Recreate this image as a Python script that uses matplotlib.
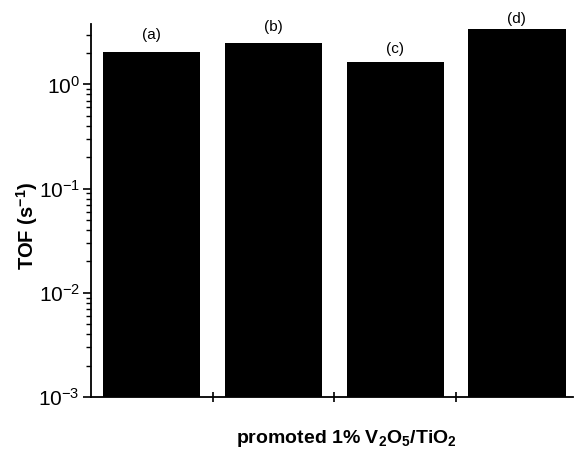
import matplotlib
matplotlib.use('Agg')
import matplotlib.pyplot as plt
from matplotlib.ticker import LogLocator, FixedLocator, NullFormatter

plt.rcParams['font.family'] = ['Liberation Sans', 'DejaVu Sans']
plt.rcParams['mathtext.fontset'] = 'custom'
plt.rcParams['mathtext.rm'] = 'Liberation Sans'
plt.rcParams['mathtext.bf'] = 'Liberation Sans:bold'

# data
samples = ['(a)', '(b)', '(c)', '(d)']
tof = [2.03, 2.52, 1.62, 3.43]

positions = list(range(1, len(samples) + 1))
label_offsets = [17, 16, 14, 10]  # px above each bar

fig = plt.figure(figsize=(5.74, 4.5), dpi=100)
ax = fig.add_axes([0.1585, 0.1178, 0.8395, 0.829])

ax.bar(positions, tof, width=0.8, color='black', bottom=1e-3)
for x, lab, v, off in zip(positions, samples, tof, label_offsets):
    ax.annotate(lab, (x, v), xytext=(0, off * 0.72), textcoords='offset points',
                ha='center', va='center', fontsize=11, annotation_clip=False)

ax.set_yscale('log')
ax.set_ylim(1e-3, 3.8)
ax.set_xlim(0.5, 4.46)

ax.yaxis.set_major_locator(LogLocator(base=10, numticks=10))
ax.yaxis.set_minor_locator(LogLocator(base=10, subs=range(2, 10), numticks=20))
ax.yaxis.set_minor_formatter(NullFormatter())
ax.xaxis.set_major_locator(FixedLocator([1.5, 2.5, 3.5]))
ax.set_xticklabels([])

ax.spines['top'].set_visible(False)
ax.spines['right'].set_visible(False)
ax.spines['left'].set_linewidth(1.3)
ax.spines['bottom'].set_linewidth(1.3)

ax.tick_params(axis='y', which='major', direction='out', length=6, width=1.2, labelsize=15, pad=2)
ax.tick_params(axis='y', which='minor', direction='out', length=3.5, width=1.0)
ax.tick_params(axis='x', which='major', direction='inout', length=7, width=1.2)

ax.set_ylabel('TOF (s$^{\\mathbf{-1}}$)', fontsize=14.5, fontweight='bold', labelpad=-1)
ax.yaxis.label.set_y(0.458)
ax.set_xlabel('promoted 1% V$_\\mathbf{2}$O$_\\mathbf{5}$/TiO$_\\mathbf{2}$',
              fontsize=14, fontweight='bold', labelpad=15)
ax.xaxis.label.set_x(0.531)

fig.savefig('out.png', dpi=100)
